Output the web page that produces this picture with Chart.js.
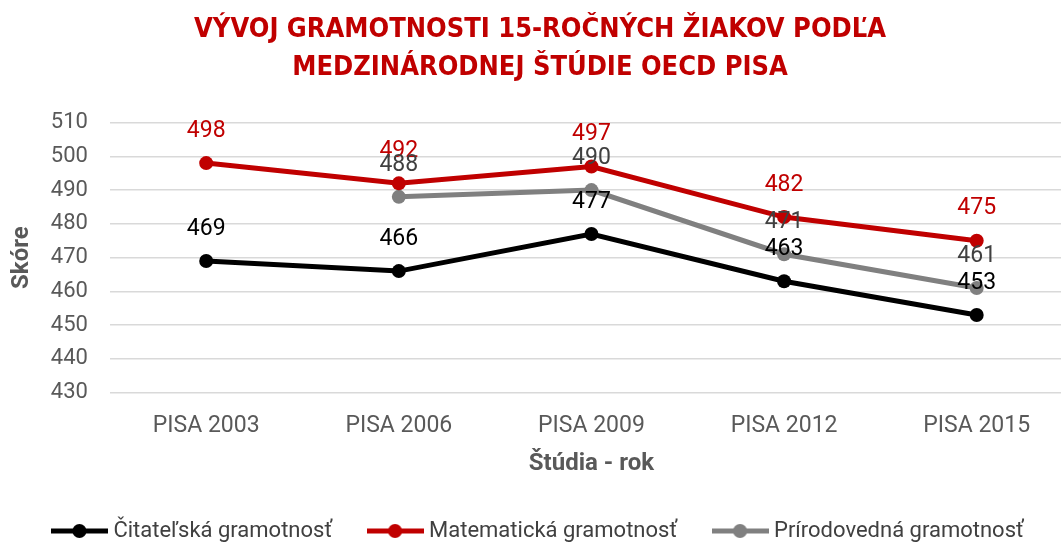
<!DOCTYPE html>
<html>
<head>
<meta charset="utf-8">
<script src="https://cdn.jsdelivr.net/npm/chart.js@4"></script>
<style>
  html, body { margin: 0; padding: 0; overflow: hidden; background: #fff; }
  #wrap { width: 1080px; height: 544px; }
</style>
</head>
<body>
<div id="wrap"><canvas id="lineChart"></canvas></div>
<script>
const studies = ["PISA 2003", "PISA 2006", "PISA 2009", "PISA 2012", "PISA 2015"];
const reading = [469, 466, 477, 463, 453];
const maths = [498, 492, 497, 482, 475];
const science = [null, 488, 490, 471, 461];
const yTicks = [430, 440, 450, 460, 470, 480, 490, 500, 510];

const narrow = "'DejaVu Sans Condensed', sans-serif";
const plain = "Roboto, 'Liberation Sans', sans-serif";

// small line+dot icon for the legend
function legendIcon(color) {
  const c = document.createElement("canvas");
  c.width = 57; c.height = 16;
  const g = c.getContext("2d");
  g.strokeStyle = color; g.lineWidth = 5;
  g.beginPath(); g.moveTo(0, 8); g.lineTo(57, 8); g.stroke();
  g.fillStyle = color;
  g.beginPath(); g.arc(28.5, 8, 7, 0, Math.PI * 2); g.fill();
  return c;
}

// value labels above each point
const valueLabels = {
  id: "valueLabels",
  afterDatasetsDraw(chart) {
    const ctx = chart.ctx;
    ctx.save();
    ctx.font = "23px " + plain;
    ctx.textAlign = "center";
    ctx.textBaseline = "middle";
    chart.data.datasets.forEach((ds, i) => {
      const meta = chart.getDatasetMeta(i);
      meta.data.forEach((pt, j) => {
        if (ds.data[j] == null) return;
        ctx.fillStyle = ds.labelColor;
        ctx.fillText(ds.data[j], pt.x, pt.y - 32);
      });
    });
    ctx.restore();
  }
};

const ctx = document.getElementById("lineChart");
new Chart(ctx, {
  type: "line",
  data: {
    labels: studies,
    datasets: [
      {
        label: "Čitateľská gramotnosť",
        data: reading,
        borderColor: "#000000",
        backgroundColor: "#000000",
        labelColor: "#000000",
        icon: legendIcon("#000000")
      },
      {
        label: "Matematická gramotnosť",
        data: maths,
        borderColor: "#c00000",
        backgroundColor: "#c00000",
        labelColor: "#c00000",
        icon: legendIcon("#c00000")
      },
      {
        label: "Prírodovedná gramotnosť",
        data: science,
        borderColor: "#808080",
        backgroundColor: "#808080",
        labelColor: "#404040",
        icon: legendIcon("#808080")
      }
    ]
  },
  options: {
    responsive: true,
    maintainAspectRatio: false,
    animation: false,
    layout: { padding: { left: 0, right: 0, top: 0, bottom: -8 } },
    elements: {
      line: { borderWidth: 5, tension: 0 },
      point: { radius: 7, hoverRadius: 7, borderWidth: 0 }
    },
    plugins: {
      title: {
        display: true,
        text: ["VÝVOJ GRAMOTNOSTI 15-ROČNÝCH ŽIAKOV PODĽA", "MEDZINÁRODNEJ ŠTÚDIE OECD PISA"],
        color: "#c00000",
        font: { family: narrow, size: 27, weight: "bold", lineHeight: 1.4 },
        padding: { top: 11, bottom: 36 }
      },
      legend: {
        position: "bottom",
        labels: {
          color: "#404040",
          font: { family: plain, size: 22 },
          usePointStyle: true,
          pointStyleWidth: 46,
          boxHeight: 16,
          padding: 40,
          generateLabels(chart) {
            return chart.data.datasets.map((ds, i) => ({
              text: ds.label,
              pointStyle: ds.icon,
              fillStyle: ds.borderColor,
              strokeStyle: ds.borderColor,
              lineWidth: 0,
              fontColor: "#404040",
              hidden: false,
              datasetIndex: i
            }));
          }
        }
      },
      tooltip: { enabled: false }
    },
    scales: {
      x: {
        offset: true,
        grid: { display: false },
        border: { display: false },
        ticks: { color: "#595959", font: { family: plain, size: 23 }, padding: 12 },
        title: {
          display: true,
          text: "Štúdia - rok",
          color: "#595959",
          font: { family: plain, size: 24, weight: "bold" },
          padding: { top: -3, bottom: 2 }
        }
      },
      y: {
        min: 430,
        max: 510,
        afterBuildTicks(axis) {
          axis.ticks = yTicks.map(v => ({ value: v }));
        },
        grid: { color: "#d9d9d9", lineWidth: 1.5, drawTicks: false },
        border: { display: false },
        ticks: { color: "#595959", font: { family: plain, size: 22 }, padding: 22 },
        title: {
          display: true,
          text: "Skóre",
          color: "#595959",
          font: { family: plain, size: 24, weight: "bold" },
          padding: { top: 8, bottom: -8 }
        }
      }
    }
  },
  plugins: [valueLabels]
});
</script>
</body>
</html>
